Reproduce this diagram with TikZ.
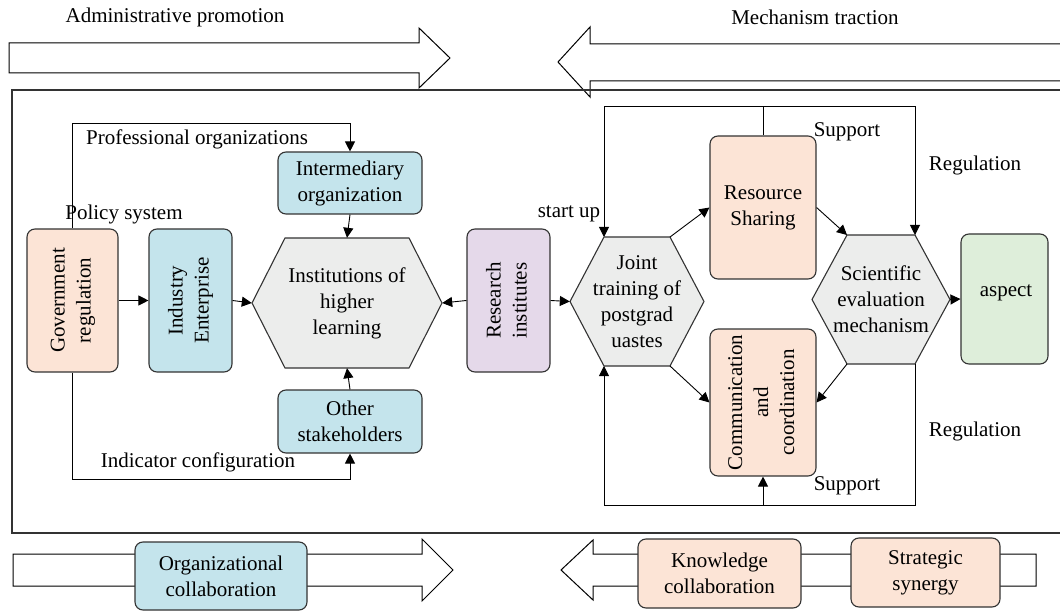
\documentclass[tikz,border=0pt]{standalone}
\usepackage{fontspec}
\setmainfont{Liberation Serif}
\usetikzlibrary{arrows.meta,calc}
\definecolor{peach}{HTML}{FCE4D6}
\definecolor{lblue}{HTML}{C4E4EC}
\definecolor{hexgray}{HTML}{ECEDEC}
\definecolor{lpurple}{HTML}{E5D9EA}
\definecolor{lgreen}{HTML}{DEEEDA}
\definecolor{edge}{HTML}{333333}
\newcommand\myvtext[1]{\rotatebox{90}{\begin{tabular}{@{}c@{}}#1\end{tabular}}}
% name, cx, cy, half width, half height, slant, text
\newcommand\myhex[7]{%
  \draw[hexline] (#2-#4,#3) -- (#2-#4+#6,#3-#5) -- (#2+#4-#6,#3-#5) -- (#2+#4,#3)
     -- (#2+#4-#6,#3+#5) -- (#2-#4+#6,#3+#5) -- cycle;
  \node[align=center, inner sep=0pt, minimum width=2*#4, minimum height=2*#5] (#1) at (#2,#3) {#7};
  \coordinate (#1tl) at (#2-#4+#6,#3-#5);
  \coordinate (#1tr) at (#2+#4-#6,#3-#5);
  \coordinate (#1bl) at (#2-#4+#6,#3+#5);
  \coordinate (#1br) at (#2+#4-#6,#3+#5);
}
\begin{document}
\begin{tikzpicture}[x=1pt,y=-1pt,
  font=\rmfamily\fontsize{21}{26}\selectfont,
  box/.style={draw=edge, line width=1.1pt, rounded corners=8pt, align=center, inner sep=2pt},
  hexline/.style={draw=edge, fill=hexgray, line width=1.1pt},
  lbl/.style={inner sep=0pt},
  ln/.style={line width=0.9pt, draw=black},
  arr/.style={ln, -{Triangle[length=10pt,width=10pt]}},
  bigarrow/.style={draw=black, line width=1pt, fill=white}]
\useasboundingbox (0,0) rectangle (1060,612);
\clip (0,0) rectangle (1060,612);

% big arrows top
\draw[bigarrow] (9,43) -- (419,43) -- (419,28) -- (450,58) -- (419,88) -- (419,73) -- (9,73) -- cycle;
\draw[bigarrow] (1075,44) -- (590,44) -- (590,27) -- (558,62) -- (590,97) -- (590,81) -- (1075,81);
\node[lbl] (tadm) at (175,17) {Administrative promotion};
\node[lbl] (tmech) at (815,17) {Mechanism traction};

% frame
\draw[line width=1.1pt, draw=edge] (1075,90) -- (12,90) -- (12,533) -- (1075,533);

% bottom arrows
\draw[bigarrow] (13,554) -- (422,554) -- (422,539) -- (453,570) -- (422,601) -- (422,586) -- (13,586) -- cycle;
\draw[bigarrow] (1036,554) -- (593,554) -- (593,540) -- (561,570) -- (593,600) -- (593,586) -- (1036,586) -- cycle;
\node[box, fill=lblue, minimum width=172, minimum height=68] (orgc) at (221,576) {Organizational\\collaboration};
\node[box, fill=peach, minimum width=163, minimum height=69] (knowc) at (719.5,573.5) {Knowledge\\collaboration};
\node[box, fill=peach, minimum width=149, minimum height=69] (strat) at (925.5,572.5) {Strategic\\synergy};

% left part
\node[box, fill=peach, minimum width=91, minimum height=143] (gov) at (72.5,300.5) {\myvtext{Government\\regulation}};
\node[box, fill=lblue, minimum width=83, minimum height=143] (ind) at (190.5,300.5) {\myvtext{Industry\\Enterprise}};
\node[box, fill=lblue, minimum width=144, minimum height=62] (inter) at (350,183) {Intermediary\\organization};
\node[box, fill=lblue, minimum width=144, minimum height=63] (other) at (350,421.5) {Other\\stakeholders};
\myhex{inst}{347}{303}{95}{65}{33}{Institutions of\\higher\\learning}
\node[box, fill=lpurple, minimum width=83, minimum height=143] (res) at (508.5,300.5) {\myvtext{Research\\institutes}};

\draw[arr] (gov.north) |- ($(inter.north)+(0,-28)$) -- (inter.north);
\draw[arr] (gov.south) |- ($(other.south)+(0,26)$) -- (other.south);
\draw[arr] (gov.east) -- (ind.west);
\draw[arr] (ind.east) -- (inst.west);
\draw[arr] (inter.south) -- (inst.north);
\draw[arr] (other.north) -- (inst.south);
\draw[arr] (res.west) -- (inst.east);

\node[lbl] (lprof) at (197,139) {Professional organizations};
\node[lbl] (lpol) at (124,214) {Policy system};
\node[lbl] (lind) at (198,462) {Indicator configuration};

% right part
\myhex{joint}{637}{301.5}{67}{64.5}{34}{Joint\\training of\\postgrad\\uastes}
\node[box, fill=peach, minimum width=106, minimum height=143] (share) at (763,207.5) {Resource\\Sharing};
\node[box, fill=peach, minimum width=106, minimum height=147] (comm) at (763,402.5) {\myvtext{Communication\\and\\coordination}};
\myhex{sci}{881}{299.5}{69}{64.5}{35}{Scientific\\evaluation\\mechanism}
\node[box, fill=lgreen, minimum width=87, minimum height=130] (asp) at (1004.5,299) {};
\node[lbl] (asptext) at (1006,293) {aspect};

\coordinate (loopT) at (763,106);
\coordinate (loopB) at (763,505);

\draw[arr] (res.east) -- (joint.west);
\draw[arr] (share.north) -- (loopT) -| (jointtl);
\draw[arr] (loopT) -| (scitr);
\draw[arr] (loopB) -| (jointbl);
\draw[ln] (scibr) |- (loopB);
\draw[arr] (loopB) -- (comm.south);
\draw[arr] (jointtr) -- (share.west);
\draw[arr] (share.east) -- (scitl);
\draw[arr] (jointbr) -- (comm.west);
\draw[arr] (scibl) -- (comm.east);
\draw[arr] (sci.east) -- (asp.west);

\node[lbl] (lstart) at (569,214) {start up};
\node[lbl] (lsup1) at (847,132) {Support};
\node[lbl] (lsup2) at (847,486) {Support};
\node[lbl] (lreg1) at (975,165) {Regulation};
\node[lbl] (lreg2) at (975,431) {Regulation};
\end{tikzpicture}
\end{document}
